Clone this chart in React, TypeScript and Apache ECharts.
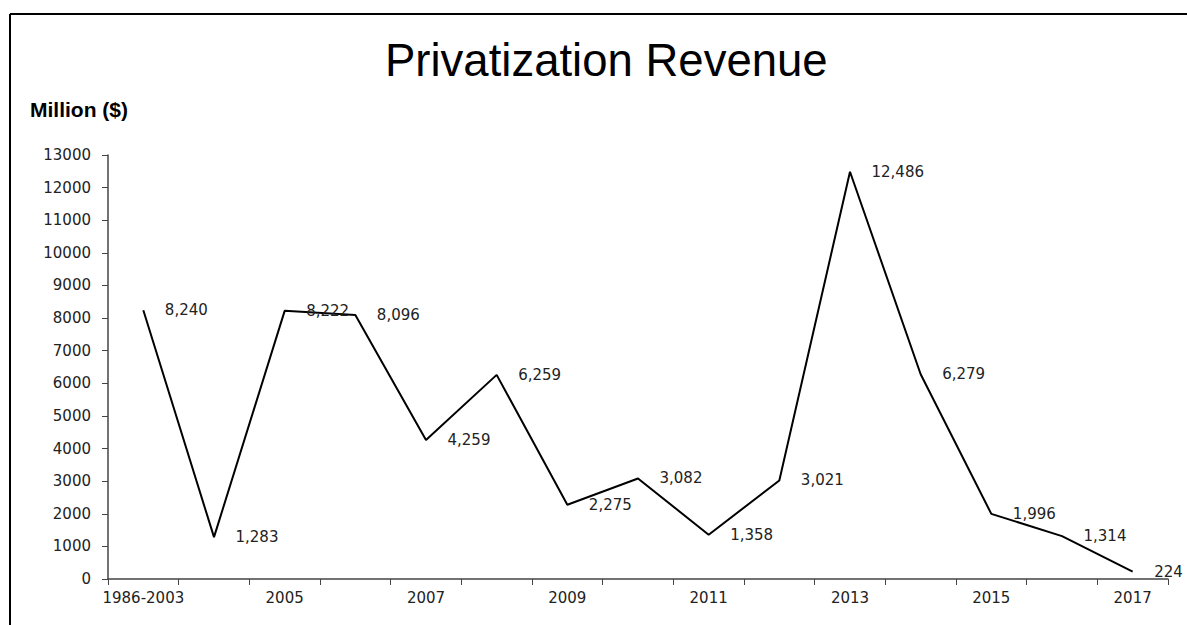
import React, { useEffect, useRef } from "react";
import * as echarts from "echarts";

const categories = [
  "1986-2003", "2004", "2005", "2006", "2007", "2008", "2009", "2010",
  "2011", "2012", "2013", "2014", "2015", "2016", "2017",
];
const revenue = [8240, 1283, 8222, 8096, 4259, 6259, 2275, 3082, 1358, 3021, 12486, 6279, 1996, 1314, 224];
const yTicks = { min: 0, max: 13000, interval: 1000 };
const titleText = "Privatization Revenue";
const yAxisName = "Million ($)";

const FONT = "'Liberation Sans', Arial, sans-serif";
const LABEL_FONT = "'DejaVu Sans', sans-serif";

export default function App() {
  const ref = useRef<HTMLDivElement>(null);
  useEffect(() => {
    if (!ref.current) return;
    const chart = echarts.init(ref.current, undefined, { renderer: "svg" });
    chart.setOption({
      animation: false,
      backgroundColor: "#ffffff",
      textStyle: { fontFamily: FONT },
      title: {
        text: titleText,
        left: 380,
        top: 32,
        textStyle: { fontFamily: FONT, fontSize: 45.5, fontWeight: "normal", color: "#000" },
      },
      graphic: [
        { type: "line", shape: { x1: 10, y1: 14, x2: 1187, y2: 14 }, style: { stroke: "#000", lineWidth: 2 } },
        { type: "line", shape: { x1: 10, y1: 14, x2: 10, y2: 625 }, style: { stroke: "#000", lineWidth: 2 } },
        {
          type: "text",
          left: 30,
          top: 99,
          style: { text: yAxisName, font: `bold 21px ${FONT}`, fill: "#000" },
        },
      ],
      grid: { left: 108, right: 19, top: 155, bottom: 46, containLabel: false },
      xAxis: {
        type: "category",
        data: categories,
        boundaryGap: true,
        axisLine: { lineStyle: { color: "#444", width: 1.5 } },
        axisTick: { show: true, interval: 0, length: 6, lineStyle: { color: "#444" } },
        axisLabel: { interval: 1, margin: 11, fontSize: 15, color: "#222", fontFamily: LABEL_FONT },
        splitLine: { show: false },
      },
      yAxis: {
        type: "value",
        min: yTicks.min,
        max: yTicks.max,
        interval: yTicks.interval,
        axisLine: { show: true, lineStyle: { color: "#444", width: 1.5 } },
        axisTick: { show: true, length: 6, lineStyle: { color: "#444" } },
        axisLabel: {
          margin: 17,
          fontSize: 15,
          color: "#222",
          fontFamily: LABEL_FONT,
          formatter: (v: number) => String(v),
        },
        splitLine: { show: false },
      },
      series: [
        {
          type: "line",
          data: revenue,
          symbol: "circle",
          symbolSize: 1,
          showSymbol: true,
          itemStyle: { color: "transparent" },
          lineStyle: { color: "#000", width: 2 },
          label: {
            show: true,
            position: "right",
            distance: 21,
            fontSize: 15,
            color: "#222",
            fontFamily: LABEL_FONT,
            formatter: (p: any) => Number(p.value).toLocaleString("en-US"),
          },
        },
      ],
    });
    return () => chart.dispose();
  }, []);
  return (
    <div
      ref={ref}
      style={{ position: "absolute", left: 0, top: 0, width: 1187, height: 625 }}
    />
  );
}
